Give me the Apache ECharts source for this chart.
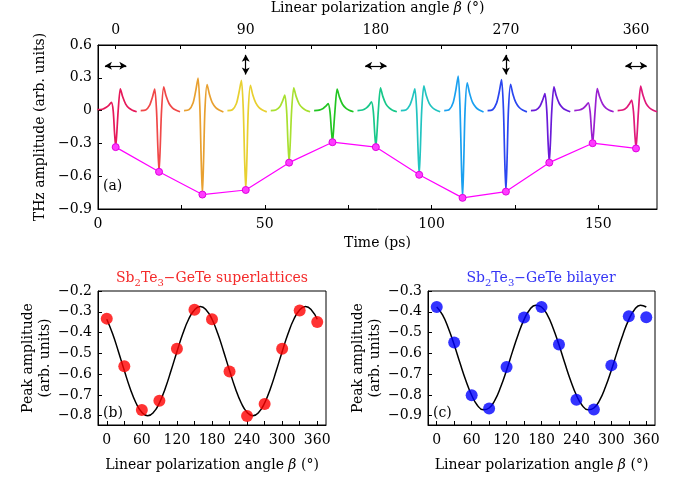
<!DOCTYPE html>
<html><head><meta charset="utf-8">
<script src="https://cdn.jsdelivr.net/npm/echarts@6/dist/echarts.min.js"></script>
<style>html,body{margin:0;padding:0;background:#fff}#c{width:682px;height:478px}</style>
</head><body><div id="c"></div>
<script>
const FONT = 'DejaVu Serif';
const FS = 14;
// ---- panel (a) data ----
const angles = [0,30,60,90,120,150,180,210,240,270,300,330,360];
const pulseCenters = [5.3,18.3,31.3,44.3,57.3,70.3,83.3,96.3,109.3,122.3,135.3,148.3,161.3]; // ps
const pulseMinima = [-0.334,-0.56,-0.768,-0.726,-0.476,-0.289,-0.334,-0.587,-0.798,-0.741,-0.476,-0.298,-0.346];
const pulseOffsets = [-5.5,-4.0,-2.8,-2.0,-1.3,-0.75,-0.35,0,0.35,0.75,1.4,2.1,3.0,4.0,5.0,6.3]; // ps relative to dip
const wave0   = [0.01,0.012,0.03,0.05,0.075,0.0,-0.20,-0.334,-0.20,0.0,0.20,0.126,0.06,0.022,0.004,-0.01];
const wave30  = [0.0,0.005,0.05,0.12,0.196,0.0,-0.34,-0.56,-0.34,0.0,0.217,0.135,0.065,0.025,0.005,-0.01];
const wave60  = [0.0,0.008,0.07,0.18,0.298,0.02,-0.46,-0.768,-0.46,0.0,0.238,0.15,0.07,0.028,0.006,-0.012];
const wave90  = [0.0,0.008,0.065,0.17,0.277,0.02,-0.44,-0.726,-0.44,0.0,0.232,0.145,0.07,0.027,0.005,-0.012];
const wave120 = [0.0,0.005,0.035,0.085,0.142,0.0,-0.29,-0.476,-0.29,0.0,0.208,0.13,0.062,0.024,0.004,-0.01];
const wave150 = [0.0,0.005,0.02,0.04,0.063,-0.01,-0.17,-0.289,-0.17,0.0,0.196,0.123,0.058,0.022,0.004,-0.01];
const wave180 = [0.0,0.005,0.025,0.05,0.081,-0.01,-0.20,-0.334,-0.20,0.0,0.208,0.13,0.062,0.024,0.004,-0.01];
const wave210 = [0.0,0.005,0.05,0.12,0.20,0.0,-0.35,-0.587,-0.35,0.0,0.226,0.14,0.067,0.026,0.005,-0.01];
const wave240 = [0.0,0.008,0.075,0.19,0.316,0.02,-0.48,-0.798,-0.48,0.0,0.253,0.16,0.075,0.03,0.006,-0.012];
const wave270 = [0.0,0.008,0.068,0.17,0.283,0.02,-0.45,-0.741,-0.45,0.0,0.241,0.15,0.072,0.028,0.005,-0.012];
const wave300 = [0.0,0.005,0.04,0.095,0.156,0.0,-0.29,-0.476,-0.29,0.0,0.217,0.135,0.065,0.025,0.005,-0.01];
const wave330 = [0.0,0.005,0.022,0.045,0.072,-0.01,-0.18,-0.298,-0.18,0.0,0.201,0.126,0.06,0.023,0.004,-0.01];
const wave360 = [0.0,0.005,0.028,0.06,0.097,-0.01,-0.21,-0.346,-0.21,0.0,0.223,0.14,0.066,0.026,0.005,-0.01];
const waves = [wave0,wave30,wave60,wave90,wave120,wave150,wave180,wave210,wave240,wave270,wave300,wave330,wave360];
const waveColors = ['#e6195a','#f04848','#e8a030','#e8d030','#a8e030','#22c522','#18c88a','#22c4c0','#1aa0f0','#2a46f0','#6a1ad8','#9a20d0','#e0187a'];
const hArrowAngles = [0,180,360];
const vArrowAngles = [90,270];
// tick labels
const timeTicks = [0,50,100,150];
const timeMinor = [0,25,50,75,100,125,150];
const angleTopTicks = [0,90,180,270,360];
const angleTopMinor = [0,45,90,135,180,225,270,315,360];
const ampTicks = [-0.9,-0.6,-0.3,0,0.3,0.6];
// ---- panels (b), (c) ----
const slPeak = [-0.333,-0.562,-0.773,-0.728,-0.478,-0.29,-0.336,-0.587,-0.802,-0.744,-0.478,-0.294,-0.349];
const blPeak = [-0.377,-0.548,-0.802,-0.866,-0.666,-0.428,-0.377,-0.558,-0.823,-0.87,-0.658,-0.422,-0.426];
const fitAngles = [0,10,20,30,40,50,60,70,80,90,100,110,120,130,140,150,160,170,180,190,200,210,220,230,240,250,260,270,280,290,300,310,320,330,340,350,360];
const slFit = [-0.336,-0.406,-0.492,-0.583,-0.669,-0.739,-0.784,-0.800,-0.784,-0.739,-0.669,-0.583,-0.492,-0.406,-0.336,-0.291,-0.275,-0.291,-0.336,-0.406,-0.492,-0.583,-0.669,-0.739,-0.784,-0.800,-0.784,-0.739,-0.669,-0.583,-0.492,-0.406,-0.336,-0.291,-0.275,-0.291,-0.336];
const blFit = [-0.377,-0.415,-0.479,-0.559,-0.647,-0.731,-0.802,-0.851,-0.872,-0.863,-0.825,-0.761,-0.681,-0.593,-0.509,-0.438,-0.389,-0.368,-0.377,-0.415,-0.479,-0.559,-0.647,-0.731,-0.802,-0.851,-0.872,-0.863,-0.825,-0.761,-0.681,-0.593,-0.509,-0.438,-0.389,-0.368,-0.377];
const angleTicks = [0,60,120,180,240,300,360];
const angleMinor = [0,30,60,90,120,150,180,210,240,270,300,330,360];
const slTicks = [-0.8,-0.7,-0.6,-0.5,-0.4,-0.3,-0.2];
const blTicks = [-0.9,-0.8,-0.7,-0.6,-0.5,-0.4,-0.3];

const fmt = v => String(v).replace('-', '\u2212');
const txt = {fontFamily: FONT, fontSize: FS, color: '#000'};
const nameRich = {i: {fontFamily: FONT, fontSize: FS, fontStyle: 'italic', color: '#000'}};
function ax(o) {
  return Object.assign({
    type: 'value',
    axisLine: {show: true, onZero: false, lineStyle: {color: '#000', width: 1}},
    splitLine: {show: false},
    nameTextStyle: Object.assign({rich: nameRich}, txt),
    nameLocation: 'middle'
  }, o);
}
function lbl(vals, margin) { return {customValues: vals, formatter: fmt, margin: margin, ...txt}; }
function tick(vals) { return {customValues: vals, inside: true, length: 4, lineStyle: {color: '#000'}}; }

const series = [];
waves.forEach((w, k) => {
  series.push({
    type: 'line', xAxisIndex: 0, yAxisIndex: 0, showSymbol: false, symbol: 'none',
    smooth: 0.25, data: w.map((v, i) => [pulseCenters[k] + pulseOffsets[i], v]),
    lineStyle: {color: waveColors[k], width: 1.7}, z: 2, animation: false
  });
});
series.push({
  type: 'line', xAxisIndex: 0, yAxisIndex: 0, data: pulseCenters.map((t, i) => [t, pulseMinima[i]]),
  symbol: 'circle', symbolSize: 7, lineStyle: {color: '#ff00ff', width: 1.2},
  itemStyle: {color: '#ff3cff', borderColor: '#e000e0', borderWidth: 1}, z: 5, animation: false
});
const arrowLines = [];
hArrowAngles.forEach(a => arrowLines.push([{coord: [a - 7.4, 0.41]}, {coord: [a + 7.4, 0.41]}]));
vArrowAngles.forEach(a => arrowLines.push([{coord: [a, 0.33]}, {coord: [a, 0.51]}]));
series.push({
  type: 'line', xAxisIndex: 1, yAxisIndex: 0, data: [], animation: false,
  markLine: {silent: true, symbol: ['arrow', 'arrow'], symbolSize: [6, 7], label: {show: false},
    lineStyle: {color: '#000', width: 1.2, type: 'solid'}, data: arrowLines, animation: false}
});
series.push({type: 'line', xAxisIndex: 2, yAxisIndex: 1, data: fitAngles.map((a, i) => [a, slFit[i]]),
  smooth: true, showSymbol: false, symbol: 'none', lineStyle: {color: '#000', width: 1.5}, animation: false});
series.push({type: 'scatter', xAxisIndex: 2, yAxisIndex: 1, data: angles.map((a, i) => [a, slPeak[i]]),
  symbolSize: 12, itemStyle: {color: '#ff0000'}, z: 5, animation: false});
series.push({type: 'line', xAxisIndex: 3, yAxisIndex: 2, data: fitAngles.map((a, i) => [a, blFit[i]]),
  smooth: true, showSymbol: false, symbol: 'none', lineStyle: {color: '#000', width: 1.5}, animation: false});
series.push({type: 'scatter', xAxisIndex: 3, yAxisIndex: 2, data: angles.map((a, i) => [a, blPeak[i]]),
  symbolSize: 12, itemStyle: {color: '#0000ff'}, z: 5, animation: false});

const gridStyle = {show: true, borderColor: '#000', borderWidth: 1, backgroundColor: 'transparent'};
const subRich = (c) => ({
  n: {fontFamily: FONT, fontSize: FS, fill: c, lineHeight: 20},
  s: {fontFamily: FONT, fontSize: 10, fill: c, lineHeight: 20, verticalAlign: 'bottom'}
});
const option = {
  animation: false,
  backgroundColor: '#fff',
  grid: [
    Object.assign({left: 98, top: 43, width: 559, height: 166}, gridStyle),
    Object.assign({left: 98, top: 291, width: 228, height: 134}, gridStyle),
    Object.assign({left: 428, top: 291, width: 227, height: 134}, gridStyle)
  ],
  xAxis: [
    ax({gridIndex: 0, min: 0, max: 167.6, position: 'bottom', name: 'Time (ps)', nameGap: 27,
      axisLabel: lbl(timeTicks, 8), axisTick: tick(timeMinor)}),
    ax({gridIndex: 0, min: -12.2, max: 374.5, position: 'top', name: 'Linear polarization angle {i|β} (°)', nameGap: 30,
      axisLabel: lbl(angleTopTicks, 8), axisTick: tick(angleTopMinor)}),
    ax({gridIndex: 1, min: -15, max: 375, position: 'bottom', name: 'Linear polarization angle {i|β} (°)', nameGap: 33,
      axisLabel: lbl(angleTicks, 8), axisTick: tick(angleMinor)}),
    ax({gridIndex: 2, min: -15, max: 375, position: 'bottom', name: 'Linear polarization angle {i|β} (°)', nameGap: 33,
      axisLabel: lbl(angleTicks, 8), axisTick: tick(angleMinor)})
  ],
  yAxis: [
    ax({gridIndex: 0, min: -0.9, max: 0.6, name: 'THz amplitude (arb. units)', nameGap: 44,
      axisLabel: lbl(ampTicks, 6), axisTick: tick(ampTicks)}),
    ax({gridIndex: 1, min: -0.845, max: -0.2, name: 'Peak amplitude\n(arb. units)', nameGap: 32,
      nameTextStyle: Object.assign({lineHeight: 17}, txt),
      axisLabel: lbl(slTicks, 6), axisTick: tick(slTicks)}),
    ax({gridIndex: 2, min: -0.945, max: -0.3, name: 'Peak amplitude\n(arb. units)', nameGap: 32,
      nameTextStyle: Object.assign({lineHeight: 17}, txt),
      axisLabel: lbl(blTicks, 6), axisTick: tick(blTicks)})
  ],
  graphic: [
    {type: 'text', x: 103, y: 186, style: {text: '(a)', font: FS + 'px "' + FONT + '"', fill: '#000', verticalAlign: 'middle'}},
    {type: 'text', x: 103, y: 413, style: {text: '(b)', font: FS + 'px "' + FONT + '"', fill: '#000', verticalAlign: 'middle'}},
    {type: 'text', x: 433, y: 413, style: {text: '(c)', font: FS + 'px "' + FONT + '"', fill: '#000', verticalAlign: 'middle'}},
    {type: 'text', x: 212, y: 278, style: {text: '{n|Sb}{s|2}{n|Te}{s|3}{n|\u2212GeTe superlattices}', rich: subRich('#f42a2a'), align: 'center', verticalAlign: 'middle'}},
    {type: 'text', x: 541, y: 278, style: {text: '{n|Sb}{s|2}{n|Te}{s|3}{n|\u2212GeTe bilayer}', rich: subRich('#3535f5'), align: 'center', verticalAlign: 'middle'}}
  ],
  series: series
};
const chart = echarts.init(document.getElementById('c'), null, {renderer: 'canvas'});
chart.setOption(option);
</script></body></html>
